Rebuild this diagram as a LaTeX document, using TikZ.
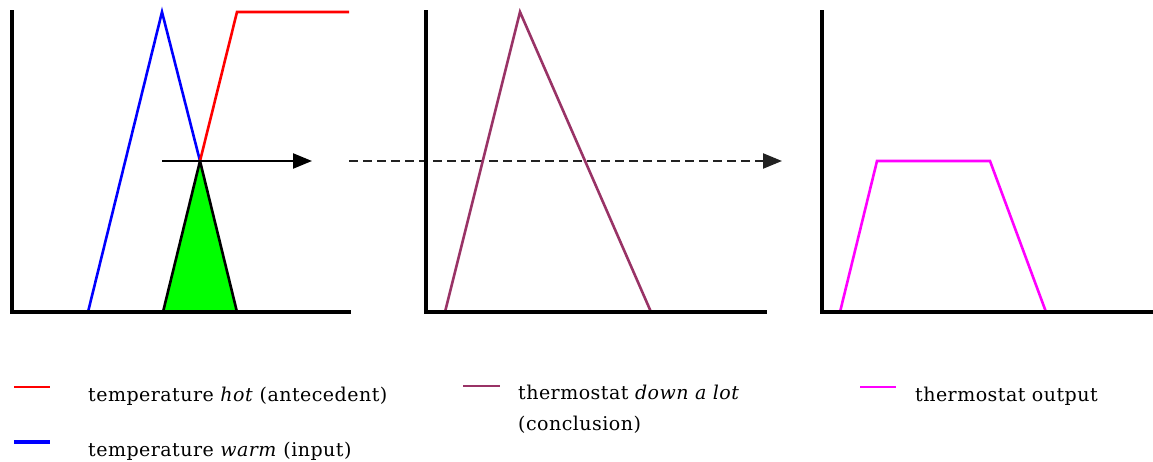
\documentclass[tikz,border=0pt]{standalone}
\usepackage{fontspec}
\setmainfont{DejaVu Serif}[LetterSpace=2.5]
\usetikzlibrary{arrows.meta}
\definecolor{maroonc}{HTML}{993366}
\definecolor{dashc}{HTML}{222222}
\definecolor{magc}{HTML}{FF00FF}
\definecolor{greenc}{HTML}{00FF00}
\tikzset{
  axis/.style={line width=3.5pt, line cap=rect},
  curve/.style={line width=2.6pt, line join=miter},
  legline/.style={line width=2.4pt},
  legtext/.style={anchor=base west, inner sep=0pt, font=\fontsize{19}{23}\selectfont},
  tip/.style={-{Triangle[length=19pt,width=15pt]}},
}
\begin{document}
\begin{tikzpicture}[x=1pt,y=-1pt]
\useasboundingbox (0,0) rectangle (1153,462);
% panel 1
\coordinate (a1t) at (12,12); \coordinate (a1o) at (12,312); \coordinate (a1r) at (349,312);
\coordinate (bl0) at (88,312); \coordinate (blp) at (162,12); \coordinate (ap) at (200,161);
\coordinate (rdp) at (237,12); \coordinate (rde) at (349,12);
\coordinate (g1) at (163,312); \coordinate (g2) at (237,312);
\coordinate (ar1s) at (162,161); \coordinate (ar1e) at (312,161);
\filldraw[fill=greenc, draw=black, line width=2.6pt, line join=miter] (g1) -- (ap) -- (g2) -- cycle;
\draw[curve, blue] (bl0) -- (blp) -- (ap);
\draw[curve, red] (ap) -- (rdp) -- (rde);
\draw[axis] (a1t) -- (a1o) -- (a1r);
\draw[line width=2.4pt, tip] (ar1s) -- (ar1e);
% dashed arrow
\coordinate (dss) at (349,161); \coordinate (dse) at (782,161);
\draw[line width=2.4pt, dashc, dash pattern=on 9pt off 5pt, tip] (dss) -- (dse);
% panel 2
\coordinate (a2t) at (426,12); \coordinate (a2o) at (426,312); \coordinate (a2r) at (765,312);
\coordinate (m1) at (445,312); \coordinate (m2) at (520,12); \coordinate (m3) at (651,312);
\draw[curve, maroonc] (m1) -- (m2) -- (m3);
\draw[axis] (a2t) -- (a2o) -- (a2r);
% panel 3
\coordinate (a3t) at (822,12); \coordinate (a3o) at (822,312); \coordinate (a3r) at (1153,312);
\coordinate (t1) at (840,312); \coordinate (t2) at (877,161); \coordinate (t3) at (990,161); \coordinate (t4) at (1046,312);
\draw[curve, magc] (t1) -- (t2) -- (t3) -- (t4);
\draw[axis] (a3t) -- (a3o) -- (a3r);
% legend
\coordinate (l1a) at (14,387); \coordinate (l1b) at (50,387);
\draw[legline, red] (l1a) -- (l1b);
\node[legtext] (lt1) at (88,401) {temperature \textit{hot} (antecedent)};
\coordinate (l2a) at (14,442); \coordinate (l2b) at (50,442);
\draw[line width=3.2pt, blue] (l2a) -- (l2b);
\node[legtext] (lt2) at (88,456) {temperature \textit{warm} (input)};
\coordinate (l3a) at (463,386); \coordinate (l3b) at (500,386);
\draw[legline, maroonc] (l3a) -- (l3b);
\node[legtext] (lt3) at (518,399) {thermostat \textit{down a lot}};
\node[legtext] (lt4) at (518,430) {(conclusion)};
\coordinate (l4a) at (860,387); \coordinate (l4b) at (896,387);
\draw[legline, magc] (l4a) -- (l4b);
\node[legtext] (lt5) at (915,401) {thermostat output};
\end{tikzpicture}
\end{document}
